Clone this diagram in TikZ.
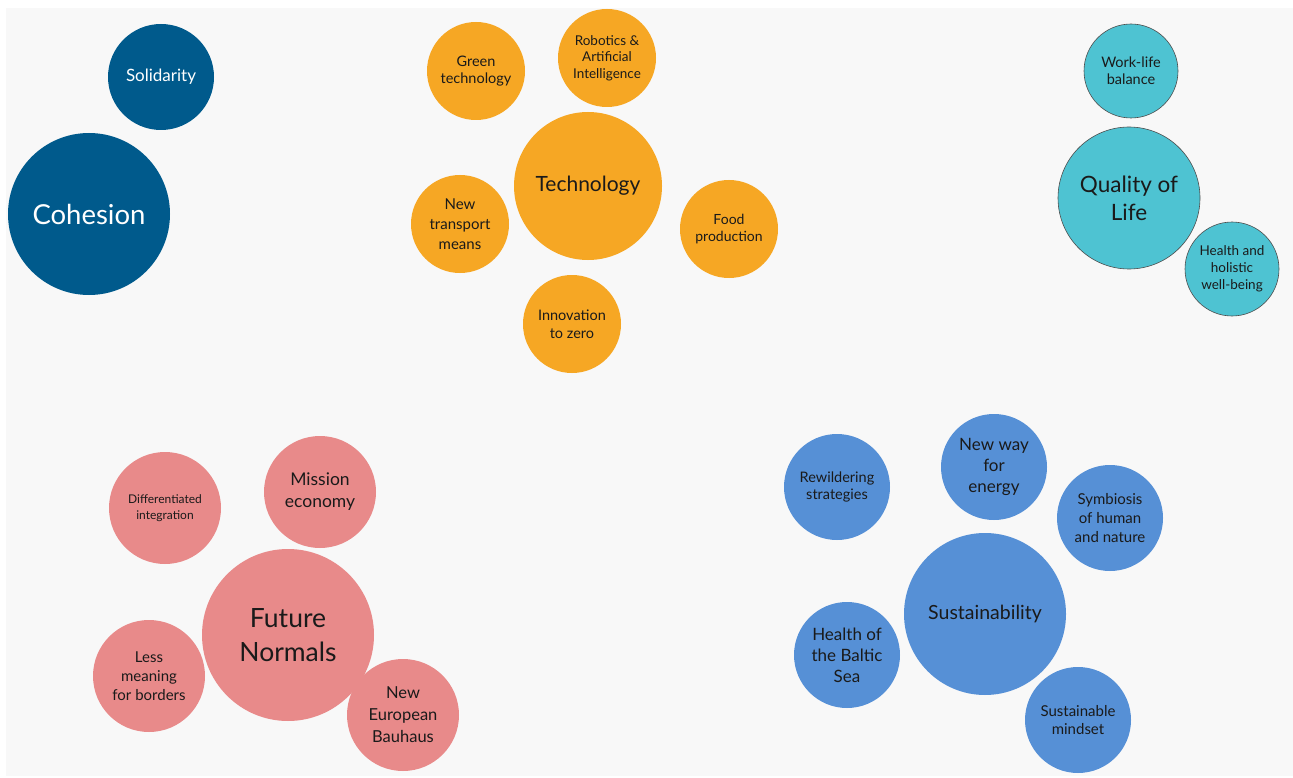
\documentclass[tikz,border=0pt]{standalone}
\usepackage{fontspec}
\setmainfont{Lato}
\definecolor{bgc}{HTML}{F8F8F8}
\definecolor{cohc}{HTML}{005A8C}
\definecolor{orc}{HTML}{F6A724}
\definecolor{tlc}{HTML}{4EC3D2}
\definecolor{pkc}{HTML}{E88A8A}
\definecolor{blc}{HTML}{5690D6}
\definecolor{txc}{HTML}{1A1A1A}
\newcommand{\fs}[2]{\fontsize{#1}{#2}\selectfont}
\tikzset{
  bub/.style={circle, inner sep=0pt, align=center, text=txc, minimum size=#1},
  coh/.style={bub=#1, fill=cohc, text=white},
  ora/.style={bub=#1, fill=orc},
  teal/.style={bub=#1, fill=tlc, draw=black!70, line width=0.6pt},
  pink/.style={bub=#1, fill=pkc},
  blu/.style={bub=#1, fill=blc},
  f/.style 2 args={font=\fs{#1}{#2}},
}
\begin{document}
\begin{tikzpicture}[x=1pt,y=-1pt]
\useasboundingbox (0,0) rectangle (1293,778);
\fill[white] (0,0) rectangle (1293,778);
\fill[bgc] (6,8) rectangle (1293,776);
% Cohesion
\node[coh=106pt, f={17}{20}] (sol) at (161,77) {Solidarity};
\node[coh=162pt, f={27.5}{32}] (coh) at (89,214) {Cohesion};
% Technology
\node[ora=98pt, f={14.5}{17}] (green) at (476,71) {Green\\technology};
\node[ora=98pt, f={13.5}{16.5}] (robo) at (607,58) {Robotics \&\\Artificial\\Intelligence};
\node[ora=148pt, f={21}{24}] (tech) at (588,186) {Technology};
\node[ora=98pt, f={15}{20}] (trans) at (460,224) {New\\transport\\means};
\node[ora=98pt, f={14}{17}] (food) at (729,229) {Food\\production};
\node[ora=98pt, f={14.5}{18}] (innov) at (572,324) {Innovation\\to zero};
% Quality of life
\node[teal=94pt, f={14.5}{17}] (work) at (1131,71) {Work-life\\balance};
\node[teal=142pt, f={22.5}{28}] (qol) at (1129,198) {Quality of\\Life};
\node[teal=94pt, f={13.5}{17}] (health) at (1232,269) {Health and\\holistic\\well-being};
% Future normals
\node[pink=112pt, f={12}{16}] (diff) at (165,508) {Differentiated\\integration};
\node[pink=112pt, f={17.5}{22}] (miss) at (320,492) {Mission\\economy};
\node[pink=172pt, f={26.5}{34}] (fut) at (288,635) {Future\\Normals};
\node[pink=112pt, f={15}{19}] (less) at (149,676) {Less\\meaning\\for borders};
\node[pink=112pt, f={16.5}{22}] (bau) at (403,715) {New\\European\\Bauhaus};
% Sustainability
\node[blu=106pt, f={14.5}{17}] (rew) at (837,487) {Rewildering\\strategies};
\node[blu=106pt, f={17}{21}] (energy) at (994,467) {New way\\for\\energy};
\node[blu=106pt, f={15}{19}] (sym) at (1110,518) {Symbiosis\\of human\\and nature};
\node[blu=162pt, f={19.5}{22}] (sus) at (985,614) {Sustainability};
\node[blu=106pt, f={17}{21}] (baltic) at (847,655) {Health of\\the Baltic\\Sea};
\node[blu=106pt, f={15}{18}] (mind) at (1078,720) {Sustainable\\mindset};
\end{tikzpicture}
\end{document}
